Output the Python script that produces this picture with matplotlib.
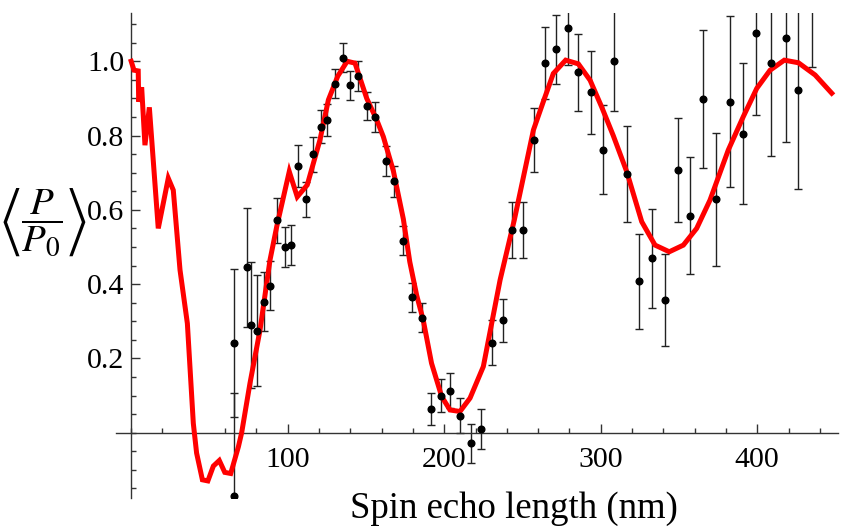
import numpy as np
import matplotlib
matplotlib.use("Agg")
import matplotlib.pyplot as plt
from matplotlib.ticker import MultipleLocator, FixedLocator

plt.rcParams["font.family"] = ["Liberation Serif", "DejaVu Serif"]
plt.rcParams["mathtext.fontset"] = "stix"

# fitted curve (red)
curve_x = [0, 1.8, 4.5, 4.8, 6.7, 8.8, 11.6, 17.3, 23.7, 26.9, 31.2, 35.9, 39.7,
           41.8, 45.5, 49.0, 52.5, 56.3, 59.8, 63.6, 68.5, 70.6, 75.9, 82.3,
           88.7, 93.0, 101.0, 106.1, 112.5, 120.6, 126.0, 132.0, 138.0, 143.0,
           150.5, 156.9, 161.1, 167.5, 173.9, 178.0, 182.4, 186.6, 191.9, 198.4,
           203.7, 210.1, 216.5, 225.0, 235.7, 244.8, 257.0, 263.3, 269.7, 277.6,
           285.7, 293.2, 300.6, 308.0, 316.6, 326.2, 334.7, 343.8, 352.8, 361.3,
           369.8, 381.5, 391.1, 399.7, 408.2, 417.3, 426.3, 437.0, 447.6]
curve_y = [1.0, 0.976, 0.974, 0.891, 0.93, 0.774, 0.876, 0.55, 0.685, 0.653, 0.438,
           0.294, 0.025, -0.055, -0.127, -0.13, -0.09, -0.075, -0.107, -0.11,
           -0.038, 0.0, 0.133, 0.276, 0.465, 0.555, 0.703, 0.635, 0.667, 0.788,
           0.896, 0.96, 1.0, 0.995, 0.9, 0.842, 0.797, 0.705, 0.575, 0.46, 0.37,
           0.303, 0.187, 0.097, 0.061, 0.057, 0.093, 0.178, 0.411, 0.573, 0.815,
           0.891, 0.967, 1.003, 0.993, 0.949, 0.877, 0.8, 0.703, 0.568, 0.505,
           0.487, 0.505, 0.55, 0.626, 0.761, 0.851, 0.927, 0.976, 1.003, 0.996,
           0.963, 0.914]

# measured points with error bars
pts_x = [65.7, 65.7, 73.8, 76.3, 80.6, 84.9, 88.7, 93.0, 98.3, 102.1, 106.4,
         111.7, 116.0, 121.1, 125.1, 130.5, 135.3, 140.0, 145.0, 150.5, 155.8,
         162.8, 168.1, 173.5, 179.2, 186.0, 191.4, 198.0, 203.7, 210.1, 216.9,
         223.5, 230.3, 237.4, 243.5, 250.2, 257.4, 264.4, 271.2, 278.9, 285.7,
         293.8, 301.7, 308.7, 316.6, 324.7, 332.6, 341.1, 349.2, 357.1, 365.6,
         373.7, 382.8, 391.1, 399.2, 408.6, 418.2, 426.3, 435.2]
pts_y = [0.241, -0.17, 0.445, 0.29, 0.275, 0.353, 0.396, 0.572, 0.5, 0.505,
         0.718, 0.628, 0.75, 0.824, 0.842, 0.94, 1.01, 0.935, 0.96, 0.879,
         0.849, 0.732, 0.677, 0.517, 0.364, 0.31, 0.064, 0.1, 0.113, 0.046,
         -0.029, 0.009, 0.242, 0.303, 0.545, 0.545, 0.788, 0.996, 1.032, 1.089,
         0.97, 0.916, 0.762, 1.0, 0.696, 0.407, 0.469, 0.357, 0.707, 0.584,
         0.898, 0.628, 0.891, 0.805, 1.075, 0.996, 1.063, 0.922, 1.26]
pts_err = [0.2, 0.276, 0.16, 0.17, 0.15, 0.08, 0.065, 0.06, 0.055, 0.053,
           0.056, 0.047, 0.047, 0.045, 0.042, 0.04, 0.04, 0.04, 0.04, 0.038,
           0.04, 0.04, 0.042, 0.039, 0.04, 0.04, 0.043, 0.045, 0.047, 0.048,
           0.052, 0.054, 0.06, 0.058, 0.075, 0.075, 0.086, 0.097, 0.093, 0.1,
           0.103, 0.113, 0.119, 0.135, 0.129, 0.127, 0.133, 0.123, 0.141, 0.157,
           0.186, 0.18, 0.23, 0.19, 0.22, 0.25, 0.28, 0.266, 0.275]

fig = plt.figure(figsize=(8.41, 5.28), dpi=100)
ax = fig.add_axes([116 / 841, 1 - 498 / 528, (838 - 116) / 841, (498 - 13) / 528])

ax.errorbar(pts_x, pts_y, yerr=pts_err, fmt="none", ecolor="#222222",
            elinewidth=1.0, capsize=3.0, capthick=1.0, zorder=2)
ax.plot(curve_x, curve_y, color="#ff0000", lw=3.6, zorder=3,
        solid_joinstyle="miter")
ax.plot(pts_x, pts_y, "o", color="black", ms=4.8, zorder=4)

ax.set_xlim(-9.7, 451.6)
ax.set_ylim(-0.176, 1.13)

for s in ["top", "right"]:
    ax.spines[s].set_visible(False)
ax.spines["left"].set_position(("data", 0))
ax.spines["bottom"].set_position(("data", 0))
for s in ["left", "bottom"]:
    ax.spines[s].set_color("#333333")
    ax.spines[s].set_linewidth(1.0)

ax.xaxis.set_major_locator(FixedLocator([100, 200, 300, 400]))
ax.xaxis.set_minor_locator(MultipleLocator(20))
ax.yaxis.set_major_locator(FixedLocator([0.2, 0.4, 0.6, 0.8, 1.0]))
ax.yaxis.set_minor_locator(MultipleLocator(0.05))
ax.set_yticklabels(["0.2", "0.4", "0.6", "0.8", "1.0"])
ax.set_xticklabels(["100", "200", "300", "400"])

ax.tick_params(which="both", direction="in", color="#333333", width=1.0,
               labelsize=21.5)
ax.tick_params(which="major", length=6.3)
ax.tick_params(which="minor", length=3.6)
ax.tick_params(axis="y", pad=5)
ax.tick_params(axis="x", pad=10)

fig.text(514 / 841, 1 - 518 / 528, "Spin echo length (nm)", fontsize=26.5,
         ha="center", va="baseline")
fig.text(43 / 841, 1 - 222 / 528, r"$\left\langle \dfrac{P}{P_0} \right\rangle$",
         fontsize=28, ha="center", va="center")

fig.savefig("out.png", dpi=100)
